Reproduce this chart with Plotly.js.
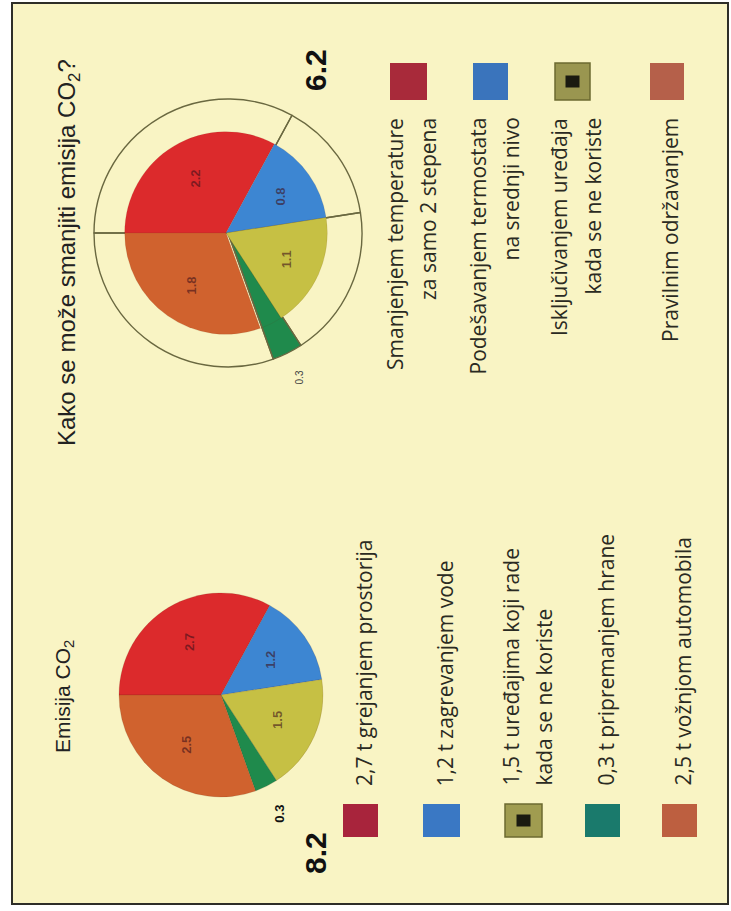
<!DOCTYPE html>
<html><head><meta charset="utf-8">
<script src="https://cdn.plot.ly/plotly-3.0.1.min.js"></script>
<style>html,body{margin:0;padding:0;background:#fff}</style>
</head><body><div id="chart" style="width:731px;height:911px"></div>
<script>
// ---------------- data ----------------
const emissionLabels = [
  "2,7 t grejanjem prostorija",
  "1,2 t zagrevanjem vode",
  "1,5 t uređajima koji rade<br>kada se ne koriste",
  "0,3 t pripremanjem hrane",
  "2,5 t vožnjom automobila"
];
const emissionValues = [2.7, 1.2, 1.5, 0.3, 2.5];
const reducedValues  = [2.2, 0.8, 1.1, 0.3, 1.8];
const savingLabels = [
  "Smanjenjem temperature<br>za samo 2 stepena",
  "Podešavanjem termostata<br>na srednji nivo",
  "Isključivanjem uređaja<br>kada se ne koriste",
  "Pravilnim održavanjem"
];
const titleLeft  = "Emisija CO<sub>2</sub>";
const titleRight = "Kako se može smanjiti emisija CO<sub>2</sub>?";

// ---------------- styles ----------------
const W = 731, H = 911;
const pieColors = ["#dc2a2c", "#3d86d2", "#c6c044", "#1f8a4c", "#d0622e"];
const legendColorsLeft  = ["#a8243c", "#3a78c4", "#a09c50", "#1a7a6c", "#bd5f40"];
const legendColorsRight = ["#a82a3a", "#3a74bc", "#9a9650", "#b5604a"];
const bg = "#f9f4c4";
const START = -90; // first slice starts at 9 o'clock, clockwise

const sum = a => a.reduce((s, v) => s + v, 0);
const X = px => px / W;
const Y = py => 1 - py / H;
function dom(cx, cy, R) {
  return {x: [(cx - R) / W, (cx + R) / W], y: [1 - (cy + R) / H, 1 - (cy - R) / H]};
}
function midAngles(vals) {
  const t = sum(vals); let c = 0;
  return vals.map(v => { const m = START + (c + v / 2) / t * 360; c += v; return m; });
}
function polar(cx, cy, r, deg) {
  const a = deg * Math.PI / 180;
  return [cx + r * Math.sin(a), cy - r * Math.cos(a)];
}

// geometry (pixels)
const L = {cx: 221, cy: 695, R: 102};
const Rt = {cx: 228, cy: 233, R: 134};
const Rin = Rt.R * sum(reducedValues) / sum(emissionValues);

const traces = [
  { type: "pie", values: emissionValues, sort: false, direction: "clockwise", rotation: START,
    marker: {colors: pieColors, line: {color: "rgba(90,40,20,0.25)", width: 0.6}},
    textinfo: "none", hoverinfo: "none", domain: dom(L.cx, L.cy, L.R) },
  { type: "pie", values: emissionValues, sort: false, direction: "clockwise", rotation: START,
    marker: {colors: pieColors.map((c, i) => i === 3 ? c : "rgba(0,0,0,0)"),
             line: {color: "#6a6840", width: 1.4}},
    textinfo: "none", hoverinfo: "none", domain: dom(Rt.cx, Rt.cy, Rt.R) },
  { type: "pie", values: emissionValues, sort: false, direction: "clockwise", rotation: START,
    marker: {colors: pieColors.map((c, i) => i === 3 ? "rgba(0,0,0,0)" : c),
             line: {color: "rgba(90,40,20,0.2)", width: 0.5}},
    textinfo: "none", hoverinfo: "none", domain: dom(Rt.cx - 2, Rt.cy, Rin) }
];

const ann = [];
const shapes = [];
// frame
shapes.push({type: "rect", xref: "paper", yref: "paper", layer: "below",
  x0: X(12), x1: X(728), y0: Y(904), y1: Y(3), fillcolor: bg, line: {color: "#2e2e28", width: 2}});

const SANS = "Liberation Sans, Arial, sans-serif";
function rot(text, x, y, o) {
  return Object.assign({xref: "paper", yref: "paper", x: X(x), y: Y(y), text: text, showarrow: false,
    textangle: -90, xanchor: "center", yanchor: "middle",
    font: {family: SANS, size: 12, color: "#222"}}, o || {});
}

// titles
ann.push(rot(titleLeft, 64, 697, {font: {family: SANS, size: 21, color: "#222"}}));
ann.push(rot(titleRight, 68, 253, {font: {family: SANS, size: 24, color: "#222"}}));

// totals
ann.push(rot(sum(emissionValues).toFixed(1), 315, 853, {font: {family: SANS, size: 30, color: "#111", weight: 700}}));
ann.push(rot(sum(reducedValues).toFixed(1), 315, 70, {font: {family: SANS, size: 30, color: "#111", weight: 700}}));

// pie value labels
const mL = midAngles(emissionValues);
emissionValues.forEach((v, i) => {
  if (i === 3) {
    const p = polar(L.cx, L.cy, L.R * 1.3, mL[i]);
    ann.push(rot(v.toFixed(1), p[0], p[1], {font: {family: SANS, size: 13, color: "#111", weight: 700}}));
  } else {
    const p = polar(L.cx, L.cy, L.R * 0.6, mL[i]);
    ann.push(rot(v.toFixed(1), p[0], p[1], {font: {family: SANS, size: 13, color: "rgba(60,15,25,0.6)", weight: 700}}));
  }
});
reducedValues.forEach((v, i) => {
  if (i === 3) {
    const p = polar(Rt.cx, Rt.cy, Rt.R * 1.2, mL[i]);
    ann.push(rot(v.toFixed(1), p[0], p[1], {font: {family: SANS, size: 10, color: "#444"}}));
  } else {
    const p = polar(Rt.cx, Rt.cy, Rin * 0.63, mL[i]);
    ann.push(rot(v.toFixed(1), p[0], p[1], {font: {family: SANS, size: 13, color: "rgba(60,15,25,0.6)", weight: 700}}));
  }
});

// legends
const legFont = {family: "Open Sans, sans-serif", size: 21, color: "#2a2a22"};
const PITCH = 33;
function legendItem(label, color, sqX0, sqX1, sqY0, sqY1, textY, anchor, align, withIcon) {
  shapes.push({type: "rect", xref: "paper", yref: "paper", x0: X(sqX0), x1: X(sqX1), y0: Y(sqY1), y1: Y(sqY0),
    fillcolor: color, line: {width: withIcon ? 1.5 : 0, color: "#6c6a30"}});
  if (withIcon) {
    const cx = (sqX0 + sqX1) / 2, cy = (sqY0 + sqY1) / 2;
    shapes.push({type: "rect", xref: "paper", yref: "paper", x0: X(cx - 7), x1: X(cx + 7), y0: Y(cy + 6), y1: Y(cy - 6),
      fillcolor: "#1a1a10", line: {width: 0}});
  }
  const lines = label.split("<br>");
  const c = (sqX0 + sqX1) / 2 + 3;
  lines.forEach((ln, k) => {
    const x = c + (k - (lines.length - 1) / 2) * PITCH;
    ann.push(rot(ln, x, textY, {yanchor: anchor, align: align, font: legFont}));
  });
}
const leftSq = [[343, 378], [423, 460], [505, 542], [585, 620], [662, 697]];
emissionLabels.forEach((lb, i) => legendItem(lb, legendColorsLeft[i], leftSq[i][0], leftSq[i][1], 804, 837, 788, "bottom", "left", i === 2));
const rightSq = [[390, 427], [473, 508], [555, 590], [650, 684]];
savingLabels.forEach((lb, i) => legendItem(lb, legendColorsRight[i], rightSq[i][0], rightSq[i][1], 63, 100, 116, "top", "right", i === 2));

const layout = {
  width: W, height: H, margin: {l: 0, r: 0, t: 0, b: 0},
  paper_bgcolor: "#ffffff", showlegend: false,
  annotations: ann, shapes: shapes
};
Plotly.newPlot("chart", traces, layout, {displayModeBar: false, staticPlot: true});
</script>
</body></html>
